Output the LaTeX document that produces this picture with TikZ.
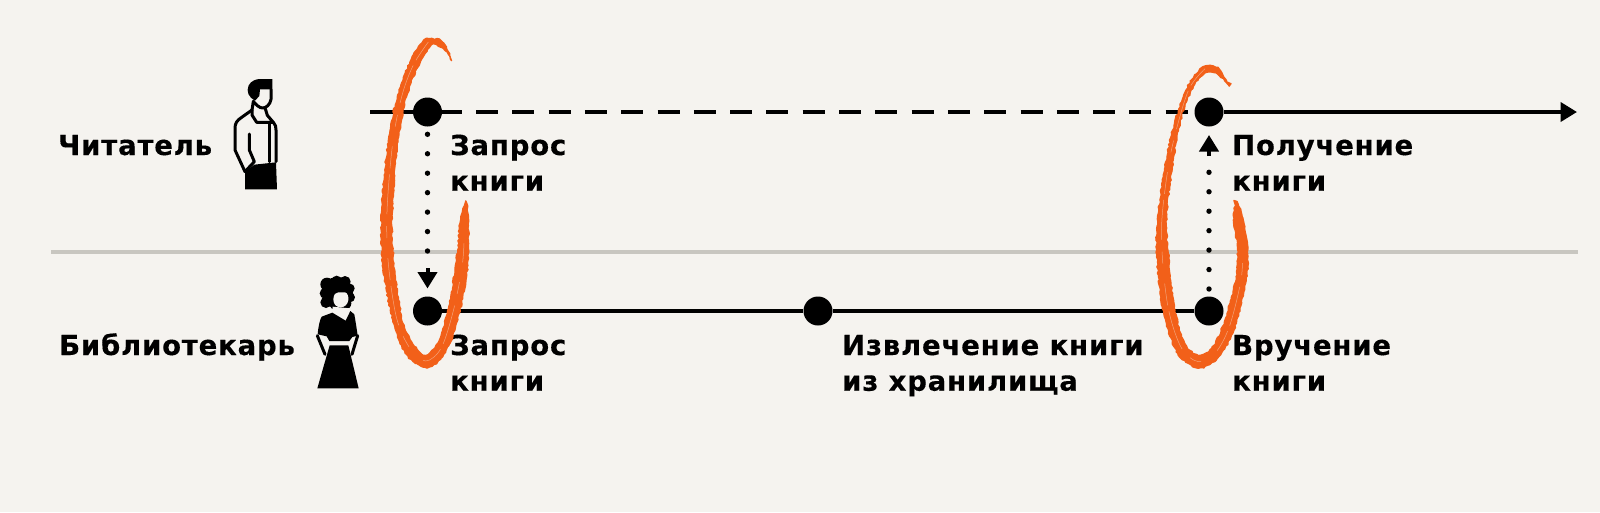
\documentclass[tikz,border=0pt]{standalone}
\usepackage{fontspec}
\setmainfont{DejaVu Sans}[LetterSpace=3,BoldFeatures={FakeBold=0.35}]
\usetikzlibrary{arrows.meta,decorations.pathmorphing}
\definecolor{paper}{HTML}{F5F3EF}
\definecolor{rule}{HTML}{C8C6C0}
\definecolor{brush}{HTML}{F26019}
\tikzset{
  lab/.style={anchor=base west,align=left,inner sep=0pt,font=\fontsize{27.5}{35.7}\selectfont\bfseries},
  dot/.style={circle,fill=black,inner sep=0pt,minimum size=29pt},
  lane/.style={line width=4pt,black},
  dashlane/.style={line width=4pt,black,dash pattern=on 22pt off 14.3pt},
  dots/.style={line width=5.4pt,line cap=round,black,dash pattern=on 0pt off 19.45pt},
  head/.style={line width=4pt,black,-{Triangle[length=16.5pt,width=19pt]}},
  icon/.style={line width=3pt,black,line join=round,line cap=round},
  stroke/.style={fill=brush,draw=brush,line width=1.2pt,line join=round,decorate,decoration={random steps,segment length=2.5pt,amplitude=.8pt}},
  streak/.style={paper,line width=.5pt,opacity=.45},
}
\begin{document}
\begin{tikzpicture}[x=1pt,y=-1pt]
\useasboundingbox (0,0) rectangle (1600,512);
\fill[paper] (0,0) rectangle (1600,512);
\coordinate (ruleL) at (51,251.7);
\coordinate (ruleR) at (1578,251.7);
\draw[rule,line width=3.6pt] (ruleL) -- (ruleR);

\node[dot] (q1) at (427.5,112) {};
\node[dot] (r1) at (1209,112) {};
\node[dot] (q2) at (427.5,311) {};
\node[dot] (m2) at (818,311) {};
\node[dot] (r2) at (1209,311) {};
\coordinate (start) at (370,112);
\coordinate (solidend) at (462,112);
\coordinate (dashstart) at (476,112);
\coordinate (end) at (1577,112);
\draw[lane] (start) -- (q1);
\draw[lane] (q1) -- (solidend);
\draw[dashlane] (dashstart) -- (r1);
\draw[line width=4pt,-{Triangle[length=16.5pt,width=19pt]}] (r1) -- (end);
\draw[lane] (q2) -- (m2);
\draw[lane] (m2) -- (r2);

% dotted connectors
\coordinate (d1s) at (427.5,134.3);
\coordinate (d1e) at (427.5,254);
\coordinate (a1s) at (427.5,268);
\coordinate (a1e) at (427.5,288.5);
\draw[dots] (d1s) -- (d1e);
\draw[head] (a1s) -- (a1e);
\coordinate (d2s) at (1209,289);
\coordinate (d2e) at (1209,170);
\coordinate (a2s) at (1209,156);
\coordinate (a2e) at (1209,135);
\draw[dots] (d2s) -- (d2e);
\draw[head] (a2s) -- (a2e);

% labels
\node[lab] (reader) at (58,155) {Читатель};
\node[lab] (libr) at (59,355) {Библиотекарь};
\node[lab] (t1) at (450,190.7) {Запрос\\книги};
\node[lab] (t2) at (1232,190.7) {Получение\\книги};
\node[lab] (t3) at (450,390.7) {Запрос\\книги};
\node[lab] (t4) at (842,390.7) {Извлечение книги\\из хранилища};
\node[lab] (t5) at (1232,390.7) {Вручение\\книги};

% man
\begin{scope}[shift={(210,60)},scale=1/3]
\fill (187,57) -- (187,88) -- (150,88) -- (148,108) -- (135,122) .. controls (116,112) and (108,95) .. (116,76) .. controls (123,62) and (140,57) .. (150,57) -- cycle;
\draw[icon] (183,88) -- (183,118) .. controls (180,135) and (168,144) .. (158,144) .. controls (148,144) and (138,134) .. (130,124) -- (126,150);
\draw[icon] (126,150) -- (95,172) .. controls (80,182) and (75,190) .. (75,205) -- (75,270) -- (105,335);
\draw[icon] (126,150) -- (126,165) -- (140,187) -- (190,187) -- (172,166) -- (165,143);
\draw[icon] (190,187) .. controls (197,195) and (198,200) .. (198,210) -- (198,305);
\draw[icon] (177,187) -- (177,305);
\draw[icon] (118,222) -- (118,270) -- (133,305) -- (105,335);
\fill (105,337) -- (133,314) -- (198,307) -- (201,388) -- (105,388) -- cycle;
\end{scope}

% woman
\begin{scope}[shift={(295,265)},scale=1/3]
\foreach \p/\r in {{127,83}/47,{96,58}/20,{125,47}/15,{150,50}/17,{165,70}/14,{165,97}/15,{90,85}/16,{93,112}/17,{150,115}/19,{120,118}/16}{
  \fill (\p) circle[radius=\r];
}
\fill[paper] (115,103) .. controls (116,88) and (122,82) .. (130,82) -- (150,82) .. controls (158,84) and (161,95) .. (160,105) .. controls (158,118) and (150,126) .. (138,127) .. controls (124,127) and (115,118) .. (115,103) -- cycle;
\fill[paper] (113,125) -- (113,142) -- (150,165) -- (165,130) -- cycle;
\fill (112,143) -- (152,167) -- (166,138) -- (178,148) .. controls (181,165) and (185,190) .. (188,212) -- (172,216) -- (163,228) -- (103,228) -- (95,214) -- (68,208) .. controls (70,185) and (74,165) .. (80,155) -- cycle;
\fill (104,241) -- (160,241) -- (191,370) -- (67,370) -- cycle;
\draw[icon] (67,212) -- (90,268);
\draw[icon] (188,212) -- (171,268);
\end{scope}

% first brush loop
\begin{scope}[shift={(360,30)},scale=1/3]
\path[stroke] plot[smooth cycle,tension=.55] coordinates {(275,92)(250,38)(215,25)(190,32)(150,95)(112,200)(85,330)(65,540)(68,700)(98,870)(138,972)(195,1012)(243,985)(285,900)(318,750)(326,640)(320,520)(300,580)(293,660)(272,800)(240,925)(197,975)(155,935)(125,860)(102,700)(97,550)(112,350)(140,200)(175,110)(215,45)(255,62)};
\draw[streak,dash pattern=on 22pt off 6pt on 40pt off 12pt on 12pt off 20pt] plot[smooth,tension=.55] coordinates {(205,36)(160,105)(125,200)(98,340)(81,545)(85,700)(110,865)(150,955)(197,993)(243,955)(278,850)(305,720)(312,640)};
\end{scope}

% second brush loop
\begin{scope}[shift={(1130,50)},scale=1/3]
\path[stroke] plot[smooth cycle,tension=.55] coordinates {(298,108)(270,60)(240,47)(210,58)(168,120)(128,240)(100,380)(80,540)(85,680)(103,800)(143,910)(205,954)(262,925)(312,840)(347,700)(354,620)(342,520)(320,455)(310,510)(322,590)(318,680)(283,815)(245,895)(205,915)(165,880)(135,780)(118,640)(110,500)(130,330)(155,200)(190,110)(228,68)(262,72)};
\draw[streak,dash pattern=on 22pt off 6pt on 40pt off 12pt on 12pt off 20pt] plot[smooth,tension=.55] coordinates {(225,56)(178,115)(140,235)(114,355)(95,520)(100,660)(118,790)(155,895)(205,935)(255,910)(298,830)(333,690)(338,600)};
\end{scope}
\end{tikzpicture}
\end{document}
